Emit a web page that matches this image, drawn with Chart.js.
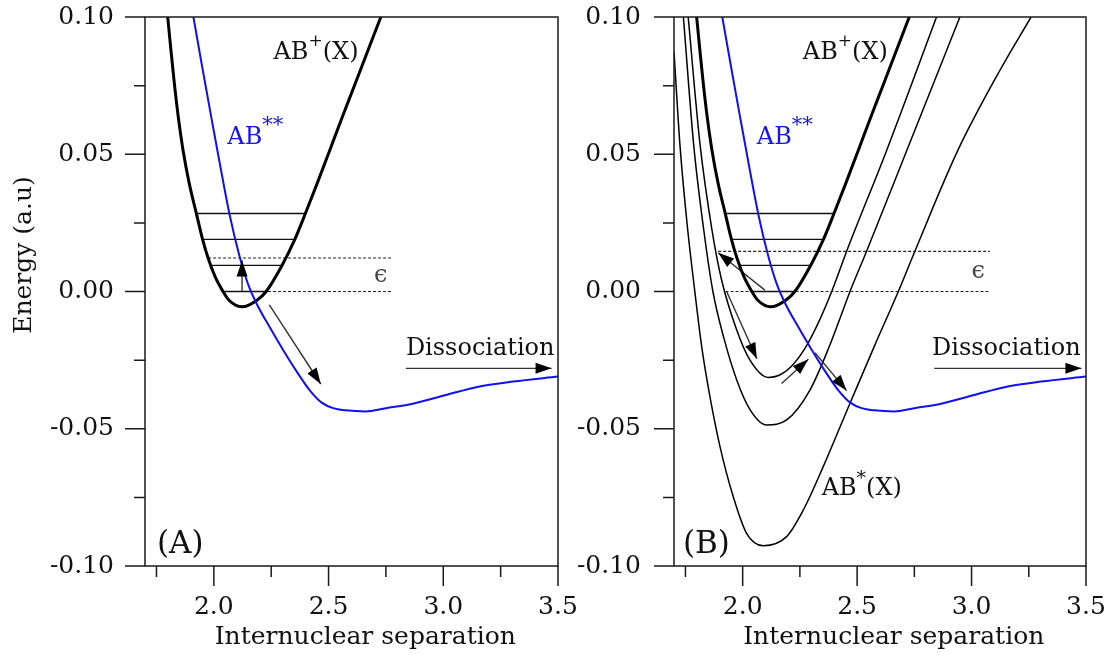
<!DOCTYPE html>
<html><head><meta charset="utf-8">
<script src="https://cdn.jsdelivr.net/npm/chart.js@4.4.1/dist/chart.umd.min.js"></script>
<style>
html,body{margin:0;padding:0;background:#fff;width:1114px;height:655px;overflow:hidden}
canvas{position:absolute;top:0}
#ca{left:0}
#cb{left:560px}
</style></head><body>
<canvas id="ca" width="600" height="655"></canvas>
<canvas id="cb" width="554" height="655"></canvas>
<script>
// ---------- data ----------
const xMajorTicks = [2.0, 2.5, 3.0, 3.5];
const xMinorTicks = [1.75, 2.25, 2.75, 3.25];
const yMajorTicks = [-0.10, -0.05, 0.00, 0.05, 0.10];
const yMinorTicks = [-0.075, -0.025, 0.025, 0.075];

// AB+(X) ion ground-state potential
const abPlus = [[1.799,0.100],[1.813,0.0879],[1.828,0.0757],[1.845,0.0636],[1.866,0.0514],[1.893,0.0393],
  [1.924,0.0284],[1.951,0.0190],[1.975,0.0122],[2.006,0.0053],[2.040,0.0],[2.066,-0.0032],[2.123,-0.0056],
  [2.188,-0.0032],[2.228,0.0],[2.297,0.0095],[2.353,0.0190],[2.399,0.0284],[2.450,0.0393],[2.505,0.0514],
  [2.560,0.0636],[2.616,0.0757],[2.672,0.0879],[2.728,0.100]];
// AB** doubly excited (dissociative) state
const abStarStar = [[1.911,0.100],[1.950,0.0815],[1.990,0.0630],[2.030,0.0448],[2.070,0.0275],[2.110,0.0135],
  [2.150,0.0025],[2.190,-0.0050],[2.240,-0.0125],[2.300,-0.0210],[2.360,-0.0290],[2.420,-0.0362],[2.470,-0.0405],
  [2.520,-0.0425],[2.575,-0.0433],[2.662,-0.0437],[2.750,-0.0425],[2.867,-0.0409],[3.012,-0.0377],[3.158,-0.0346],
  [3.304,-0.0328],[3.500,-0.0310]];
// AB*(X) Rydberg series (panel B)
const abStar1 = [[1.762,0.100],[1.814,0.0534],[1.866,0.0224],[1.908,0.0042],[1.974,-0.0140],[2.032,-0.0250],
  [2.112,-0.0313],[2.160,-0.0305],[2.210,-0.0275],[2.270,-0.0210],[2.330,-0.0115],[2.389,0.0],[2.454,0.0146],
  [2.629,0.0514],[2.847,0.100]];
const abStar2 = [[1.741,0.100],[1.786,0.0534],[1.830,0.0224],[1.870,0.0],[1.918,-0.0170],[1.974,-0.0322],
  [2.032,-0.0430],[2.105,-0.0486],[2.192,-0.0468],[2.294,-0.0359],[2.381,-0.0195],[2.425,-0.0098],[2.469,0.0],
  [2.541,0.0146],[2.720,0.0520],[2.949,0.100]];
const abStar3 = [[1.700,0.0873],[1.726,0.0534],[1.760,0.0224],[1.785,0.0042],[1.821,-0.0201],[1.857,-0.0383],
  [1.901,-0.0565],[1.959,-0.0748],[2.017,-0.0881],[2.090,-0.0926],[2.192,-0.0893],[2.265,-0.0796],[2.352,-0.0638],
  [2.469,-0.0407],[2.575,-0.0200],[2.680,0.0],[2.752,0.0146],[2.940,0.0514],[3.124,0.0806],[3.260,0.100]];

// vibrational levels [energy, xStart, xEnd]
const levelsSolid = [[0.0284,1.924,2.399],[0.0190,1.951,2.353],[0.0095,1.987,2.297],[0.0,2.040,2.228]];
const levelsDottedA = [[0.0122,1.975,2.779],[0.0,2.040,2.779]];
const levelsDottedB = [[0.0146,1.893,3.080],[0.0,1.925,3.080]];

// arrows [xFrom, yFrom, xTo, yTo]
const arrowsA = [[2.123,0.0,2.123,0.0113],[2.242,-0.0049,2.466,-0.0337],[2.837,-0.028,3.472,-0.028]];
const arrowsB = [[2.097,0.0005,1.893,0.0141],[1.930,0.0,2.062,-0.0245],[2.170,-0.0335,2.287,-0.0247],
  [2.316,-0.0223,2.454,-0.0361],[2.837,-0.028,3.480,-0.028]];

// ---------- rendering ----------
Chart.defaults.font.family = '"DejaVu Serif", serif';
Chart.defaults.color = '#111';
const FONT = '"DejaVu Serif", serif';

function curve(points, color, width) {
  return { data: points.map(([x, y]) => ({x, y})), borderColor: color, borderWidth: width,
    pointRadius: 0, fill: false, cubicInterpolationMode: 'monotone' };
}
function seg(x1, y1, x2, y2, color, width, dash) {
  return { data: [{x: x1, y: y1}, {x: x2, y: y2}], borderColor: color, borderWidth: width,
    pointRadius: 0, fill: false, tension: 0, borderDash: dash || [] };
}

function drawRich(ctx, parts, x, y, color) {
  ctx.save();
  ctx.fillStyle = color;
  ctx.textBaseline = 'alphabetic';
  ctx.textAlign = 'left';
  let cx = x;
  for (const p of parts) {
    ctx.font = `${p.size}px ${FONT}`;
    ctx.fillText(p.t, cx, y - (p.rise || 0));
    cx += ctx.measureText(p.t).width + (p.gap || 0);
  }
  ctx.restore();
}

const framePlugin = {
  id: 'frame',
  afterDraw(chart, args, opts) {
    const {ctx, chartArea: a, scales: {x, y}} = chart;
    ctx.save();
    ctx.strokeStyle = '#1a1a1a';
    ctx.lineWidth = 1.5;
    ctx.strokeRect(a.left, a.top, a.right - a.left, a.bottom - a.top);
    ctx.beginPath();
    for (const v of xMajorTicks) { const p = x.getPixelForValue(v); ctx.moveTo(p, a.bottom); ctx.lineTo(p, a.bottom + 20); }
    for (const v of xMinorTicks) { const p = x.getPixelForValue(v); ctx.moveTo(p, a.bottom); ctx.lineTo(p, a.bottom + 11); }
    for (const v of yMajorTicks) { const p = y.getPixelForValue(v); ctx.moveTo(a.left, p); ctx.lineTo(a.left - 20, p); }
    for (const v of yMinorTicks) { const p = y.getPixelForValue(v); ctx.moveTo(a.left, p); ctx.lineTo(a.left - 11, p); }
    ctx.stroke();
    // axis titles
    ctx.fillStyle = '#111';
    ctx.font = `25px ${FONT}`;
    ctx.textAlign = 'center';
    ctx.textBaseline = 'middle';
    ctx.fillText('Internuclear separation', x.getPixelForValue(2.66), a.bottom + 71);
    if (opts.yTitle) {
      ctx.translate(a.left - 121, a.top + 238);
      ctx.rotate(-Math.PI / 2);
      ctx.fillText(opts.yTitle, 0, 0);
    }
    ctx.restore();
  },
  afterDatasetsDraw(chart, args, opts) {
    const {ctx, scales: {x, y}} = chart;
    ctx.save();
    for (const [x1, y1, x2, y2] of opts.arrows) {
      const ax = x.getPixelForValue(x1), ay = y.getPixelForValue(y1);
      const bx = x.getPixelForValue(x2), by = y.getPixelForValue(y2);
      const ang = Math.atan2(by - ay, bx - ax);
      const L = 16, W = 5.5;
      ctx.fillStyle = '#000';
      ctx.beginPath();
      ctx.moveTo(bx, by);
      ctx.lineTo(bx - L * Math.cos(ang) + W * Math.sin(ang), by - L * Math.sin(ang) - W * Math.cos(ang));
      ctx.lineTo(bx - L * Math.cos(ang) - W * Math.sin(ang), by - L * Math.sin(ang) + W * Math.cos(ang));
      ctx.closePath();
      ctx.fill();
    }
    for (const lb of opts.labels) {
      drawRich(ctx, lb.parts, x.getPixelForValue(lb.x), y.getPixelForValue(lb.y), lb.color || '#111');
    }
    ctx.restore();
  }
};

function makeChart(id, cfg) {
  const datasets = [];
  datasets.push(curve(abStarStar, '#1010f0', 2));
  datasets.push(curve(abPlus, '#000', 3));
  for (const [e, x1, x2] of levelsSolid) datasets.push(seg(x1, e, x2, e, '#111', 1.4));
  for (const [e, x1, x2] of cfg.dotted) datasets.push(seg(x1, e, x2, e, '#222', 1.2, [3, 2]));
  for (const [x1, y1, x2, y2] of cfg.arrows) datasets.push(seg(x1, y1, x2, y2, '#333', 1.4));
  for (const c of cfg.extra) datasets.push(curve(c, '#000', 1.5));
  return new Chart(document.getElementById(id), {
    type: 'line',
    data: { datasets },
    options: {
      responsive: false, animation: false, events: [],
      layout: { padding: { top: 17, right: cfg.padRight, left: 0, bottom: 0 } },
      plugins: { legend: { display: false }, tooltip: { enabled: false },
        frame: { arrows: cfg.arrows, labels: cfg.labels, yTitle: cfg.yTitle } },
      scales: {
        x: { type: 'linear', min: 1.7, max: 3.5,
          afterBuildTicks: s => { s.ticks = [...xMinorTicks, ...xMajorTicks].sort((a, b) => a - b).map(v => ({value: v})); },
          afterFit: s => { s.height = 89; },
          grid: { display: false, drawTicks: true, tickLength: 26 }, border: { display: false },
          ticks: { autoSkip: false, maxRotation: 0, padding: 0, color: '#111', font: { size: 25 },
            callback: v => xMajorTicks.includes(v) ? v.toFixed(1) : '' } },
        y: { type: 'linear', min: -0.1, max: 0.1,
          afterBuildTicks: s => { s.ticks = [...yMinorTicks, ...yMajorTicks].sort((a, b) => a - b).map(v => ({value: v})); },
          afterFit: s => { s.width = cfg.yWidth; },
          grid: { display: false, drawTicks: true, tickLength: cfg.yPad }, border: { display: false },
          ticks: { autoSkip: false, padding: 0, color: '#111', font: { size: 25 },
            callback: v => yMajorTicks.includes(v) ? v.toFixed(2) : '' } }
      }
    },
    plugins: [framePlugin]
  });
}

const sup = (t, s) => ({t, size: s || 17, rise: 13});
makeChart('ca', {
  padRight: 42, yWidth: 145, yPad: 31, yTitle: 'Energy (a.u)',
  dotted: levelsDottedA, arrows: arrowsA, extra: [],
  labels: [
    {x: 2.26, y: 0.0848, parts: [{t: 'AB', size: 24}, sup('+'), {t: '(X)', size: 24}]},
    {x: 2.059, y: 0.0538, color: '#1515ee', parts: [{t: 'AB', size: 24}, {t: '**', size: 21, rise: 13}]},
    {x: 2.698, y: 0.0035, color: '#444', parts: [{t: '\u03F5', size: 24}]},
    {x: 2.837, y: -0.0231, parts: [{t: 'Dissociation', size: 24}]},
    {x: 1.752, y: -0.0953, parts: [{t: '(A)', size: 31}]}
  ]
});
makeChart('cb', {
  padRight: 28, yWidth: 114, yPad: 33, yTitle: null,
  dotted: levelsDottedB, arrows: arrowsB, extra: [abStar1, abStar2, abStar3],
  labels: [
    {x: 2.263, y: 0.0848, parts: [{t: 'AB', size: 24}, sup('+'), {t: '(X)', size: 24}]},
    {x: 2.062, y: 0.0538, color: '#1515ee', parts: [{t: 'AB', size: 24}, {t: '**', size: 21, rise: 13}]},
    {x: 3.000, y: 0.0048, color: '#444', parts: [{t: '\u03F5', size: 24}]},
    {x: 2.827, y: -0.0231, parts: [{t: 'Dissociation', size: 24}]},
    {x: 2.345, y: -0.0741, parts: [{t: 'AB', size: 24}, {t: '*', size: 19, rise: 11}, {t: '(X)', size: 24}]},
    {x: 1.739, y: -0.0953, parts: [{t: '(B)', size: 31}]}
  ]
});
</script>
</body></html>
